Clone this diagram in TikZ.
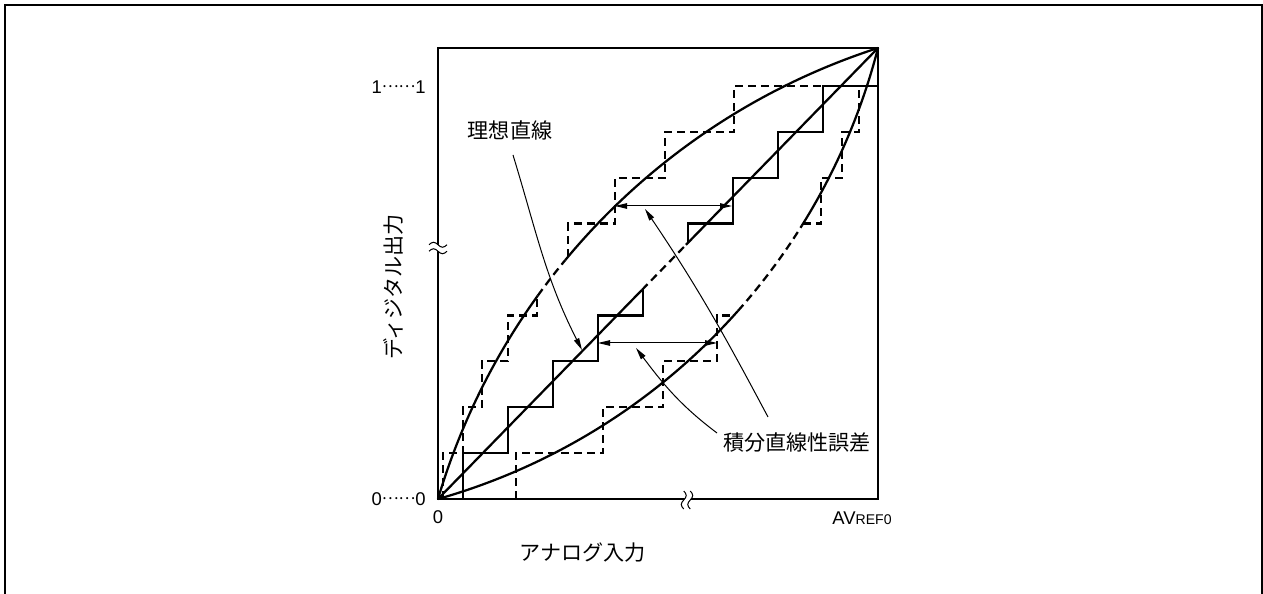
\documentclass[tikz,border=0pt]{standalone}
\usepackage{fontspec}
\setmainfont{Liberation Sans}
\newfontfamily\jp{Noto Sans CJK JP}
\usetikzlibrary{arrows.meta}

\begin{document}
\begin{tikzpicture}[x=0.2mm,y=0.2mm,
    axisbox/.style={line width=0.55mm},
    curve/.style={line width=0.45mm},
    dashpart/.style={dash pattern=on 1.6mm off 1mm},
    pointer/.style={line width=0.2mm,-{Triangle[length=2.4mm,width=1.1mm]}},
    span/.style={line width=0.2mm,{Triangle[length=2.4mm,width=1.1mm]}-{Triangle[length=2.4mm,width=1.1mm]}},
    lbl/.style={inner sep=0pt,font=\fontsize{10.5}{12}\selectfont},
    jlbl/.style={inner sep=0pt,font=\jp\fontsize{12}{14}\selectfont}]
  \useasboundingbox (-438,-95) rectangle (825,499);
  % outer frame, open at the bottom
  \draw[line width=0.4mm] (-433,-95) -- (-433,494) -- (823.5,494) -- (823.5,-95);
  % plot box
  \coordinate (O) at (0,0);
  \coordinate (T) at (440,451);
  \draw[axisbox] (O) rectangle (T);
  % axis breaks
  \begin{scope}[shift={(0,251)}]
    \fill[white] (-9,-3.25) sin (-4.5,-0.75) cos (0,-3.25) sin (4.5,-5.75) cos (9,-3.25)
      -- (9,3.25) sin (4.5,0.75) cos (0,3.25) sin (-4.5,5.75) cos (-9,3.25) -- cycle;
    \draw[line width=0.2mm] (-9,-3.25) sin (-4.5,-0.75) cos (0,-3.25) sin (4.5,-5.75) cos (9,-3.25);
    \draw[line width=0.2mm] (-9,3.25) sin (-4.5,5.75) cos (0,3.25) sin (4.5,0.75) cos (9,3.25);
  \end{scope}
  \begin{scope}[shift={(249,-1)},rotate=90]
    \fill[white] (-9,-3.25) sin (-4.5,-0.75) cos (0,-3.25) sin (4.5,-5.75) cos (9,-3.25)
      -- (9,3.25) sin (4.5,0.75) cos (0,3.25) sin (-4.5,5.75) cos (-9,3.25) -- cycle;
    \draw[line width=0.2mm] (-9,-3.25) sin (-4.5,-0.75) cos (0,-3.25) sin (4.5,-5.75) cos (9,-3.25);
    \draw[line width=0.2mm] (-9,3.25) sin (-4.5,5.75) cos (0,3.25) sin (4.5,0.75) cos (9,3.25);
  \end{scope}
  % upper and lower error curves (circle arcs through O and T)
  \coordinate (uc) at (647.5,-191.6);
  \coordinate (lc) at (-172.8,608.7);
  \draw[curve] (uc) ++(163.52:675.3) arc[start angle=163.52,end angle=144.2,radius=675.3];
  \draw[curve,dashpart] (uc) ++(144.2:675.3) arc[start angle=144.2,end angle=140.4,radius=675.3];
  \draw[curve] (uc) ++(140.4:675.3) arc[start angle=140.4,end angle=107.9,radius=675.3];
  \draw[curve] (lc) ++(-74.15:632.8) arc[start angle=-74.15,end angle=-41.65,radius=632.8];
  \draw[curve,dashpart] (lc) ++(-41.65:632.8) arc[start angle=-41.65,end angle=-31.98,radius=632.8];
  \draw[curve] (lc) ++(-31.98:632.8) arc[start angle=-31.98,end angle=-14.43,radius=632.8];
  % ideal straight line
  \draw[curve] (O) -- (204,209.1);
  \draw[curve,dashpart] (204,209.1) -- (248,254.2);
  \draw[curve] (248,254.2) -- (T);
  % ideal conversion steps
  \draw[curve] (25,0) -- (25,45.9) -- (70,45.9) -- (70,91.8) -- (115,91.8) -- (115,137.7)
    -- (160,137.7) -- (160,183.6) -- (205,183.6) -- (205,210.2);
  \draw[curve] (250,256.3) -- (250,275.4) -- (295,275.4) -- (295,321.3) -- (340,321.3)
    -- (340,367.2) -- (385,367.2) -- (385,413.1) -- (440,413.1);
  % steps along the upper curve
  \draw[curve,dashpart] (5,0) -- (5,45.9) -- (25,45.9) -- (25,91.8) -- (44,91.8) -- (44,137.7)
    -- (70,137.7) -- (70,183.6) -- (99,183.6) -- (99,202.3);
  \draw[curve,dashpart] (130,242.2) -- (130,275.4) -- (177,275.4) -- (177,321.3) -- (227,321.3)
    -- (227,367.2) -- (296,367.2) -- (296,413.1) -- (385,413.1);
  % steps along the lower curve
  \draw[curve,dashpart] (78,0) -- (78,45.9) -- (165,45.9) -- (165,91.8) -- (225,91.8) -- (225,137.7)
    -- (279,137.7) -- (279,183.6) -- (297,183.6);
  \draw[curve,dashpart] (365,275.4) -- (383,275.4) -- (383,321.3) -- (404,321.3) -- (404,367.2)
    -- (421,367.2) -- (421,413.1);
  % error spans
  \coordinate (hiL) at (177,293);
  \coordinate (hiR) at (294,293);
  \coordinate (loL) at (160,156);
  \coordinate (loR) at (279,156);
  \draw[span] (hiL) -- (hiR);
  \draw[span] (loL) -- (loR);
  % labels
  \node[lbl,anchor=east] (top) at (-12,412) {1\raisebox{3.2pt}{\jp\fontsize{9}{9}\selectfont ……}1};
  \node[lbl,anchor=east] (bottom) at (-12,0) {0\raisebox{3.2pt}{\jp\fontsize{9}{9}\selectfont ……}0};
  \node[lbl] (zero) at (0,-18) {0};
  \node[lbl] (avref) at (424,-19) {AV{\fontsize{8}{9}\selectfont REF0}};
  \node[jlbl] (xname) at (145,-54) {アナログ入力};
  \node[jlbl,rotate=90] (yname) at (-45,212) {ディジタル出力};
  \node[jlbl] (ideal) at (72,369) {理想直線};
  \node[jlbl] (inl) at (359,56) {積分直線性誤差};
  % pointers
  \coordinate (idealtail) at (75,344);
  \coordinate (idealtip) at (144,149);
  \coordinate (lotail) at (279,66);
  \coordinate (lotip) at (198,151);
  \coordinate (hitail) at (330,82);
  \coordinate (hitip) at (207,290);
  \draw[pointer] (idealtail) to[out=-73,in=117] (idealtip);
  \draw[pointer] (lotail) to[out=143,in=-53] (lotip);
  \draw[pointer] (hitail) to[out=118,in=-56] (hitip);
\end{tikzpicture}
\end{document}
